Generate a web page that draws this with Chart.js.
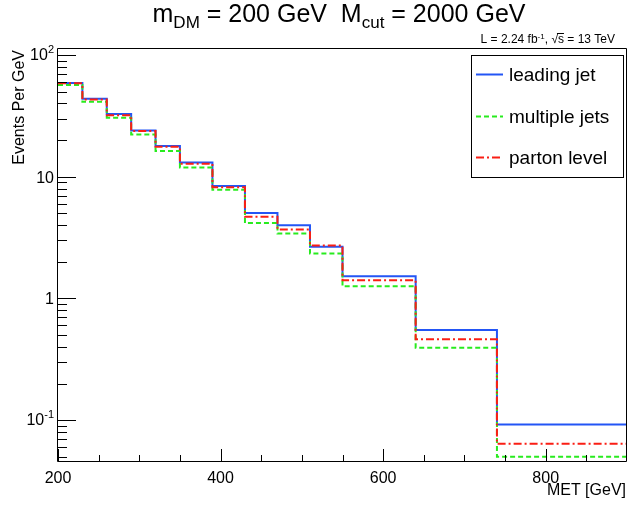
<!DOCTYPE html>
<html>
<head>
<meta charset="utf-8">
<script src="https://cdn.jsdelivr.net/npm/chart.js@4.4.1/dist/chart.umd.min.js"></script>
<style>
  html, body { margin: 0; padding: 0; background: #fff; }
  #c { display: block; }
</style>
</head>
<body>
<canvas id="c" width="628" height="506"></canvas>
<script>
// ---------------- data ----------------
const binEdges = [200, 230, 260, 290, 320, 350, 390, 430, 470, 510, 550, 640, 740, 900];
const leadingJet   = [58.9, 43.6, 32.7, 24.0, 17.9, 13.1, 8.40, 5.04, 3.99, 2.66, 1.52, 0.549, 0.0923];
const multipleJets = [56.8, 41.2, 30.5, 22.2, 16.3, 11.9, 7.82, 4.17, 3.41, 2.34, 1.26, 0.394, 0.050];
const partonLevel  = [58.5, 43.0, 32.0, 23.7, 17.6, 12.8, 8.20, 4.68, 3.68, 2.72, 1.41, 0.461, 0.064];
const seriesLabels = ['leading jet', 'multiple jets', 'parton level'];

const xMajorTicks = [200, 400, 600, 800];
const xMinorTicks = [250, 300, 350, 450, 500, 550, 650, 700, 750, 850];
const xTickLabels = ['200', '400', '600', '800'];
const yDecadeTicks = [0.1, 1, 10, 100];
const yTickBase = ['10', '1', '10', '10'];
const yTickExp  = ['-1', '', '', '2'];
const yMinorTicks = [0.05, 0.06, 0.07, 0.08, 0.09, 0.2, 0.3, 0.4, 0.5, 0.6, 0.7, 0.8, 0.9,
                     2, 3, 4, 5, 6, 7, 8, 9, 20, 30, 40, 50, 60, 70, 80, 90];
const xRange = [200, 900];
const yRange = [0.0453, 112];

const titleParts = [['m', 0], ['DM', 1], [' = 200 GeV  M', 0], ['cut', 1], [' = 2000 GeV', 0]];
const xAxisTitle = 'MET [GeV]';
const yAxisTitle = 'Events Per GeV';

// ---------------- helpers ----------------
const FAM = '"Liberation Sans", Arial, Helvetica, sans-serif';
const fnt = px => px + 'px ' + FAM;
function histPoints(edges, vals) {
  const pts = vals.map((v, i) => ({ x: edges[i], y: v }));
  pts.push({ x: edges[edges.length - 1], y: vals[vals.length - 1] });
  return pts;
}

const rootPlugin = {
  id: 'rootStyle',
  beforeDraw(chart) {
    const ctx = chart.ctx;
    ctx.save();
    ctx.fillStyle = '#fff';
    ctx.fillRect(0, 0, chart.width, chart.height);
    ctx.restore();
  },
  afterDatasetsDraw(chart) {
    const { ctx, chartArea: a, scales: { x, y } } = chart;
    ctx.save();
    // frame
    ctx.strokeStyle = '#000';
    ctx.lineWidth = 1;
    ctx.beginPath();
    ctx.moveTo(a.left - 0.5, a.top - 0.5);
    ctx.lineTo(a.right - 0.5, a.top - 0.5);
    ctx.lineTo(a.right - 0.5, a.bottom - 0.5);
    ctx.lineTo(a.left - 0.5, a.bottom - 0.5);
    ctx.closePath();
    ctx.stroke();

    // y ticks (inside)
    ctx.beginPath();
    yDecadeTicks.forEach(v => {
      const py = Math.round(y.getPixelForValue(v)) + 0.5;
      ctx.moveTo(a.left, py); ctx.lineTo(a.left + 18, py);
    });
    yMinorTicks.forEach(v => {
      const py = Math.round(y.getPixelForValue(v)) + 0.5;
      ctx.moveTo(a.left, py); ctx.lineTo(a.left + 9, py);
    });
    // x ticks (inside)
    xMajorTicks.forEach(v => {
      const px = Math.round(x.getPixelForValue(v)) + 0.5;
      ctx.moveTo(px, a.bottom - 1); ctx.lineTo(px, a.bottom - 13);
    });
    xMinorTicks.forEach(v => {
      const px = Math.round(x.getPixelForValue(v)) + 0.5;
      ctx.moveTo(px, a.bottom - 1); ctx.lineTo(px, a.bottom - 7);
    });
    ctx.stroke();

    // y tick labels
    ctx.fillStyle = '#000';
    ctx.textAlign = 'left';
    ctx.textBaseline = 'alphabetic';
    yDecadeTicks.forEach((v, i) => {
      const py = y.getPixelForValue(v);
      const right = 54;
      ctx.font = fnt(16);
      const wb = ctx.measureText(yTickBase[i]).width;
      let we = 0;
      if (yTickExp[i]) {
        ctx.font = fnt(11);
        we = ctx.measureText(yTickExp[i]).width;
      }
      ctx.font = fnt(16);
      const base = yTickExp[i] ? py + 5 : py + 6;
      ctx.fillText(yTickBase[i], right - we - wb, base);
      if (yTickExp[i]) {
        ctx.font = fnt(11);
        ctx.fillText(yTickExp[i], right - we, base - 7);
      }
    });

    // x tick labels
    ctx.font = fnt(16);
    ctx.textAlign = 'center';
    xMajorTicks.forEach((v, i) => {
      ctx.fillText(xTickLabels[i], x.getPixelForValue(v), 483);
    });

    // axis titles
    ctx.textAlign = 'right';
    ctx.fillText(xAxisTitle, 626, 495);
    ctx.save();
    ctx.translate(24, 50);
    ctx.rotate(-Math.PI / 2);
    ctx.textAlign = 'right';
    ctx.fillText(yAxisTitle, 0, 0);
    ctx.restore();

    // title with subscripts
    const mainPx = 25, subPx = 17;
    let total = 0;
    titleParts.forEach(([t, s]) => { ctx.font = fnt(s ? subPx : mainPx); total += ctx.measureText(t).width; });
    let tx = 339 - total / 2;
    ctx.textAlign = 'left';
    titleParts.forEach(([t, s]) => {
      ctx.font = fnt(s ? subPx : mainPx);
      ctx.fillText(t, tx, s ? 28 : 22);
      tx += ctx.measureText(t).width;
    });

    // luminosity label
    const lumPx = 12, lumSup = 8;
    const p1 = 'L = 2.24 fb', p2 = '-1', p3 = ', ', p4 = '\u221A', p5 = 's', p6 = ' = 13 TeV';
    ctx.font = fnt(lumPx);
    const w1 = ctx.measureText(p1).width, w3 = ctx.measureText(p3).width, w4 = ctx.measureText(p4).width,
          w5 = ctx.measureText(p5).width, w6 = ctx.measureText(p6).width;
    ctx.font = fnt(lumSup);
    const w2 = ctx.measureText(p2).width;
    let lx = 615 - (w1 + w2 + w3 + w4 + w5 + w6);
    const lb = 43;
    ctx.font = fnt(lumPx);
    ctx.fillText(p1, lx, lb); lx += w1;
    ctx.font = fnt(lumSup);
    ctx.fillText(p2, lx, lb - 4); lx += w2;
    ctx.font = fnt(lumPx);
    ctx.fillText(p3, lx, lb); lx += w3;
    ctx.fillText(p4, lx, lb); lx += w4;
    ctx.fillText(p5, lx, lb);
    ctx.beginPath();
    ctx.moveTo(lx - 1, lb - 9.5); ctx.lineTo(lx + w5, lb - 9.5);
    ctx.stroke();
    lx += w5;
    ctx.fillText(p6, lx, lb);

    // legend
    ctx.fillStyle = '#fff';
    ctx.fillRect(471, 55, 153, 123);
    ctx.strokeStyle = '#000';
    ctx.lineWidth = 1;
    ctx.strokeRect(471.5, 55.5, 152, 122);
    const rows = [74, 116, 157];
    chart.data.datasets.forEach((ds, i) => {
      const ry = rows[i] + 0.5;
      ctx.strokeStyle = ds.borderColor;
      ctx.lineWidth = ds.borderWidth;
      ctx.setLineDash(ds.borderDash || []);
      ctx.beginPath();
      ctx.moveTo(476, ry); ctx.lineTo(503, ry);
      ctx.stroke();
      ctx.setLineDash([]);
      ctx.fillStyle = '#000';
      ctx.font = fnt(19);
      ctx.textAlign = 'left';
      ctx.fillText(ds.label, 509, rows[i] + 6.5);
    });
    ctx.restore();
  }
};

new Chart(document.getElementById('c'), {
  type: 'line',
  data: {
    datasets: [
      { label: seriesLabels[0], data: histPoints(binEdges, leadingJet),
        borderColor: 'rgb(35,85,245)', borderWidth: 2, borderDash: [], stepped: 'before', order: 3 },
      { label: seriesLabels[1], data: histPoints(binEdges, multipleJets),
        borderColor: 'rgb(40,235,30)', borderWidth: 2, borderDash: [5, 3], stepped: 'before', order: 2 },
      { label: seriesLabels[2], data: histPoints(binEdges, partonLevel),
        borderColor: 'rgb(250,30,20)', borderWidth: 2, borderDash: [8, 3, 2, 3], stepped: 'before', order: 1 }
    ]
  },
  options: {
    responsive: false,
    animation: false,
    devicePixelRatio: 1,
    layout: { padding: { left: 58, right: 1, top: 49, bottom: 44 } },
    elements: { point: { radius: 0, hoverRadius: 0 }, line: { fill: false, tension: 0 } },
    scales: {
      x: { type: 'linear', min: xRange[0], max: xRange[1], display: false },
      y: { type: 'logarithmic', min: yRange[0], max: yRange[1], display: false }
    },
    plugins: { legend: { display: false }, tooltip: { enabled: false }, title: { display: false } }
  },
  plugins: [rootPlugin]
});
</script>
</body>
</html>
